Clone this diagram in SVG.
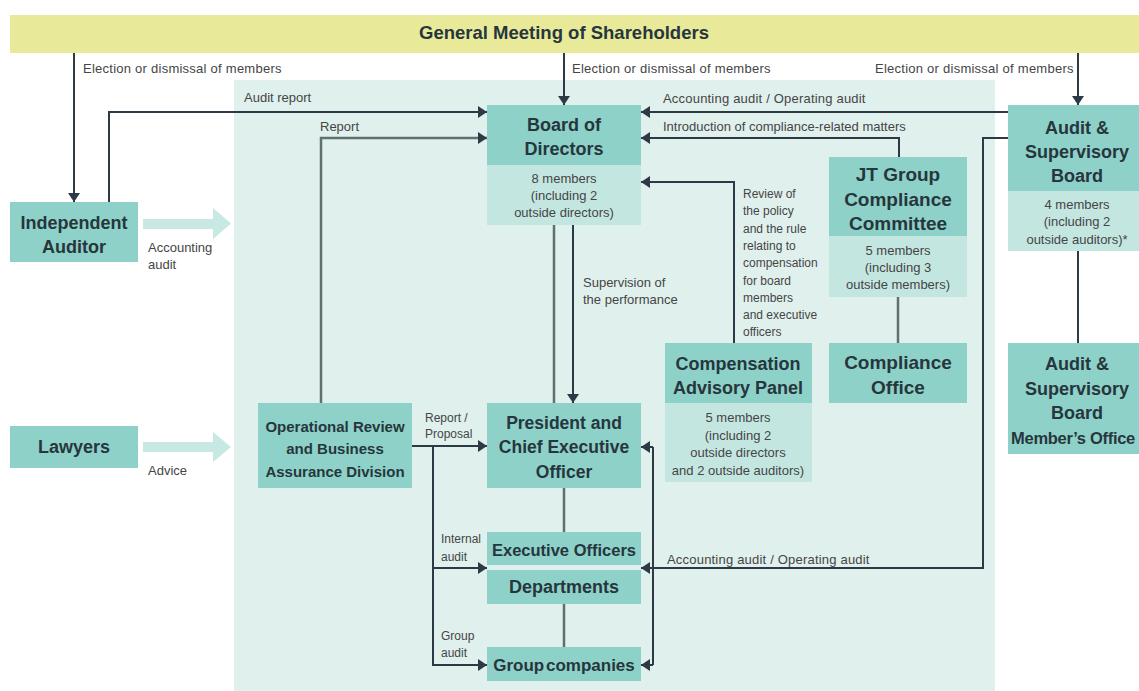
<svg xmlns="http://www.w3.org/2000/svg" width="1139" height="691" viewBox="0 0 1139 691">
<style>
.t{font-family:"Liberation Sans",Arial,sans-serif;font-weight:bold;fill:#26363c;text-anchor:middle}
.b{font-family:"Liberation Sans",Arial,sans-serif;font-size:13px;fill:#454545;text-anchor:middle}
.l{font-family:"Liberation Sans",Arial,sans-serif;font-size:13px;fill:#454545}
.s{font-family:"Liberation Sans",Arial,sans-serif;font-size:12px;fill:#454545}
.h{fill:#8ed1c9}
.lt{fill:#c4e6e1}
.c{fill:none;stroke:#2d3a45;stroke-width:2}
.g{fill:none;stroke:#5f7070;stroke-width:2.5}
.a{marker-end:url(#ah)}
</style>
<defs>
<marker id="ah" viewBox="0 0 9 12" refX="9" refY="6" markerWidth="9" markerHeight="12" markerUnits="userSpaceOnUse" orient="auto"><path d="M0,0 L9,6 L0,12 z" fill="#2d3a45"/></marker>
</defs>
<rect x="0" y="0" width="1139" height="691" fill="#ffffff"/>
<rect x="234" y="80" width="761" height="611" fill="#e0f0ed"/>
<g id="shareholders">
<rect x="10" y="15" width="1129" height="38" fill="#e8ea9a"/>
<text class="t" x="564" y="39" font-size="18.5">General Meeting of Shareholders</text>
</g>
<g id="connectors">
<path class="c a" d="M74,53 V202"/>
<path class="c a" d="M564,53 V105"/>
<path class="c a" d="M1078,53 V105"/>
<path class="c a" d="M109,202 V112 H487"/>
<path class="g a" d="M321,403 V138 H487"/>
<path class="c a" d="M1008,112 H641"/>
<path class="c a" d="M899,157 V138 H641"/>
<path class="c a" d="M734,343 V182 H641"/>
<path class="g" d="M554,225 V403"/>
<path class="c a" d="M573,225 V403"/>
<path class="g" d="M898,297 V343"/>
<path class="c" d="M1078,251 V343"/>
<path class="c a" d="M1008,138 H983 V568 H641"/>
<path class="c" d="M653,447 V665"/>
<path class="c a" d="M653,447 H641"/>
<path class="c a" d="M653,665 H641"/>
<path class="c a" d="M412,446 H487"/>
<path class="c a" d="M433,446 V665 H487"/>
<path class="c a" d="M433,568 H487"/>
<path class="g" d="M564,488 V532"/>
<path class="g" d="M564,604 V647"/>
<path d="M143,219 H213 V208 L231,223.5 L213,239 V229 H143 Z" fill="#c8e8e3"/>
<path d="M143,442 H213 V432 L231,447 L213,462 V452 H143 Z" fill="#c8e8e3"/>
<text class="l" x="83" y="73" letter-spacing="0.25">Election or dismissal of members</text>
<text class="l" x="572" y="73" letter-spacing="0.25">Election or dismissal of members</text>
<text class="l" x="875" y="73" letter-spacing="0.25">Election or dismissal of members</text>
<text class="l" x="244" y="102">Audit report</text>
<text class="l" x="320" y="131">Report</text>
<text class="l" x="663" y="103" letter-spacing="0.2">Accounting audit / Operating audit</text>
<text class="l" x="663" y="131">Introduction of compliance-related matters</text>
<text class="s" x="743" y="198">Review of</text>
<text class="s" x="743" y="215.3">the policy</text>
<text class="s" x="743" y="232.6">and the rule</text>
<text class="s" x="743" y="249.9">relating to</text>
<text class="s" x="743" y="267.2">compensation</text>
<text class="s" x="743" y="284.5">for board</text>
<text class="s" x="743" y="301.8">members</text>
<text class="s" x="743" y="319.1">and executive</text>
<text class="s" x="743" y="336.4">officers</text>
<text class="l" x="583" y="287">Supervision of</text>
<text class="l" x="583" y="304">the performance</text>
<text class="l" x="148" y="252">Accounting</text>
<text class="l" x="148" y="269">audit</text>
<text class="l" x="148" y="475">Advice</text>
<text class="s" x="425" y="422">Report /</text>
<text class="s" x="425" y="438">Proposal</text>
<text class="s" x="441" y="543">Internal</text>
<text class="s" x="441" y="561">audit</text>
<text class="s" x="441" y="640">Group</text>
<text class="s" x="441" y="657">audit</text>
<text class="l" x="667" y="564" letter-spacing="0.2">Accounting audit / Operating audit</text>
</g>
<g id="independent-auditor">
<rect class="h" x="10" y="202" width="128" height="60"/>
<text class="t" x="74" y="229" font-size="18">Independent</text>
<text class="t" x="74" y="253" font-size="18">Auditor</text>
</g>
<g id="lawyers">
<rect class="h" x="10" y="426" width="128" height="42"/>
<text class="t" x="74" y="453" font-size="18">Lawyers</text>
</g>
<g id="board">
<rect class="h" x="487" y="105" width="154" height="60"/>
<rect class="lt" x="487" y="165" width="154" height="60"/>
<text class="t" x="564" y="131" font-size="18">Board of</text>
<text class="t" x="564" y="155" font-size="18">Directors</text>
<text class="b" x="564" y="182.5">8 members</text>
<text class="b" x="564" y="199.5">(including 2</text>
<text class="b" x="564" y="216.5">outside directors)</text>
</g>
<g id="jt-compliance">
<rect class="h" x="829" y="157" width="138" height="79"/>
<rect class="lt" x="829" y="236" width="138" height="61"/>
<text class="t" x="898" y="181" font-size="19">JT Group</text>
<text class="t" x="898" y="206" font-size="19">Compliance</text>
<text class="t" x="898" y="230" font-size="19">Committee</text>
<text class="b" x="898" y="254.5">5 members</text>
<text class="b" x="898" y="271.5">(including 3</text>
<text class="b" x="898" y="289">outside members)</text>
</g>
<g id="compliance-office">
<rect class="h" x="829" y="343" width="138" height="60"/>
<text class="t" x="898" y="369" font-size="19">Compliance</text>
<text class="t" x="898" y="394" font-size="19">Office</text>
</g>
<g id="audit-board">
<rect class="h" x="1008" y="105" width="131" height="86"/>
<rect class="lt" x="1008" y="191" width="131" height="60"/>
<text class="t" x="1077" y="134" font-size="18">Audit &amp;</text>
<text class="t" x="1077" y="158" font-size="18">Supervisory</text>
<text class="t" x="1077" y="182" font-size="18">Board</text>
<text class="b" x="1077" y="208.5">4 members</text>
<text class="b" x="1077" y="226">(including 2</text>
<text class="b" x="1077" y="243.5">outside auditors)*</text>
</g>
<g id="audit-board-office">
<rect class="h" x="1008" y="343" width="131" height="111"/>
<text class="t" x="1077" y="370" font-size="18">Audit &amp;</text>
<text class="t" x="1077" y="395" font-size="18">Supervisory</text>
<text class="t" x="1077" y="419" font-size="18">Board</text>
<text class="t" x="1073" y="444" font-size="16.5" letter-spacing="-0.3">Member’s Office</text>
</g>
<g id="compensation">
<rect class="h" x="665" y="343" width="147" height="60"/>
<rect class="lt" x="665" y="403" width="147" height="79"/>
<text class="t" x="738" y="370" font-size="18">Compensation</text>
<text class="t" x="738" y="394" font-size="18">Advisory Panel</text>
<text class="b" x="738" y="421.5">5 members</text>
<text class="b" x="738" y="439.5">(including 2</text>
<text class="b" x="738" y="457">outside directors</text>
<text class="b" x="738" y="474.5">and 2 outside auditors)</text>
</g>
<g id="orba">
<rect class="h" x="258" y="403" width="154" height="85"/>
<text class="t" x="335" y="432" font-size="15">Operational Review</text>
<text class="t" x="335" y="454" font-size="15">and Business</text>
<text class="t" x="335" y="477" font-size="15">Assurance Division</text>
</g>
<g id="president">
<rect class="h" x="487" y="403" width="154" height="85"/>
<text class="t" x="564" y="429" font-size="17.5">President and</text>
<text class="t" x="564" y="453" font-size="17.5">Chief Executive</text>
<text class="t" x="564" y="478" font-size="17.5">Officer</text>
</g>
<g id="executive-officers">
<rect class="h" x="487" y="532" width="154" height="33"/>
<text class="t" x="564" y="556" font-size="16.5">Executive Officers</text>
</g>
<g id="departments">
<rect class="h" x="487" y="570" width="154" height="34"/>
<text class="t" x="564" y="593" font-size="18">Departments</text>
</g>
<g id="group-companies">
<rect class="h" x="487" y="647" width="154" height="34"/>
<text class="t" x="564" y="671" font-size="17" word-spacing="-3">Group companies</text>
</g>
</svg>
